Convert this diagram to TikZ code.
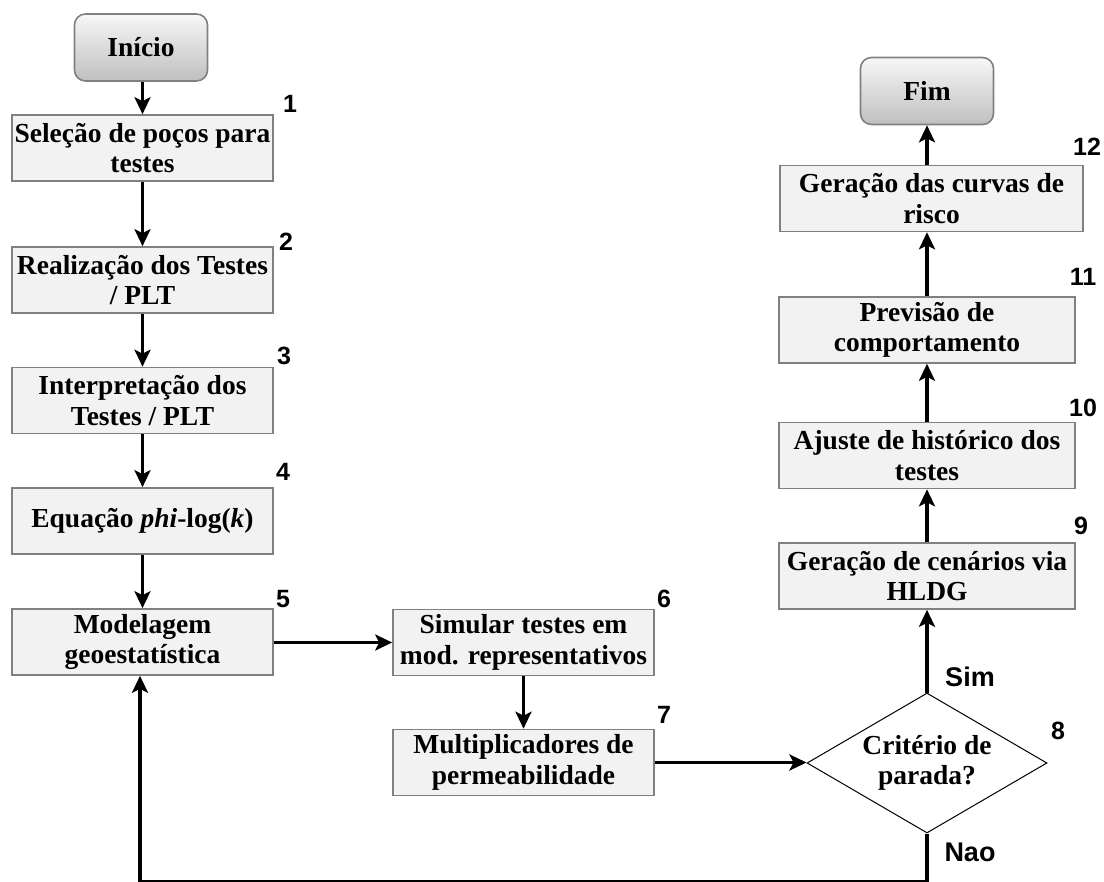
\documentclass[tikz,border=0pt]{standalone}
\usepackage{fontspec}
\setmainfont{Liberation Serif}
\newfontfamily\numfont{Liberation Sans}
\usetikzlibrary{arrows.meta,shapes.geometric}
\definecolor{boxfill}{HTML}{F2F2F2}
\definecolor{boxline}{HTML}{808080}
\tikzset{
  boxfont/.style={font=\bfseries\fontsize{27.5}{30.5}\selectfont},
  stepbox/.style={draw=boxline, fill=boxfill, line width=1.6pt, inner sep=0pt,
    minimum width=261pt, minimum height=66pt, align=center, boxfont},
  rbox/.style={stepbox, minimum width=296pt},
  termbox/.style={draw=boxline, line width=1.6pt, rounded corners=11pt,
    top color=gray!6, bottom color=gray!50, inner sep=0pt,
    minimum width=133pt, minimum height=67pt, boxfont},
  decision/.style={diamond, draw=black, line width=1pt, fill=white, inner sep=0pt,
    minimum width=240pt, minimum height=140pt, aspect=1.714, align=center, boxfont},
  numlbl/.style={font=\numfont\bfseries\fontsize{25}{25}\selectfont, inner sep=0pt},
  yn/.style={font=\numfont\bfseries\fontsize{27}{27}\selectfont, inner sep=0pt},
  arr/.style={line width=3.6pt, -{Stealth[length=17pt,width=16pt,inset=4pt]}},
  plain/.style={line width=3.6pt}
}
\begin{document}
\begin{tikzpicture}[x=1pt,y=-1pt]
\useasboundingbox (0,0) rectangle (1104,882);
% left column
\node[termbox] (ini) at (141,47.5) {Início};
\node[stepbox] (b1) at (142.5,148) {Seleção de poços para\\testes};
\node[stepbox] (b2) at (142.5,280) {Realização dos Testes\\/ PLT};
\node[stepbox] (b3) at (142.5,400.5) {Interpretação dos\\Testes / PLT};
\node[stepbox] (b4) at (142.5,521) {Equação \textit{phi}-log(\textit{k})};
\node[stepbox] (b5) at (142.5,642) {Modelagem\\geoestatística};
% middle column
\node[stepbox] (b6) at (523.5,642.5) {Simular testes em\\mod. representativos};
\node[stepbox] (b7) at (523.5,762.5) {Multiplicadores de\\permeabilidade};
% decision
\node[decision] (d8) at (927,763) {Critério de\\parada?};
% right column
\node[rbox] (b9) at (927,576) {Geração de cenários via\\HLDG};
\node[rbox] (b10) at (927,455.5) {Ajuste de histórico dos\\testes};
\node[rbox] (b11) at (927,330) {Previsão de\\comportamento};
\node[rbox, minimum width=303pt] (b12) at (931.5,198.5) {Geração das curvas de\\risco};
\node[termbox] (fim) at (927,91) {Fim};
% numbers
\node[numlbl] (n1) at (290,104) {1};
\node[numlbl] (n2) at (286,242) {2};
\node[numlbl] (n3) at (284,356) {3};
\node[numlbl] (n4) at (283,472) {4};
\node[numlbl] (n5) at (283,599) {5};
\node[numlbl] (n6) at (664,599) {6};
\node[numlbl] (n7) at (664,715) {7};
\node[numlbl] (n8) at (1058,731) {8};
\node[numlbl] (n9) at (1081,526) {9};
\node[numlbl] (n10) at (1083,408) {10};
\node[numlbl] (n11) at (1083,277) {11};
\node[numlbl] (n12) at (1087,147) {12};
\node[yn] (sim) at (970,677) {Sim};
\node[yn] (nao) at (970,852) {Nao};
% connectors
\draw[arr] (ini.south -| b1.north) -- (b1.north);
\draw[arr] (b1) -- (b2);
\draw[arr] (b2) -- (b3);
\draw[arr] (b3) -- (b4);
\draw[arr] (b4) -- (b5);
\draw[arr] (b5.east |- b6.west) -- (b6.west);
\draw[arr] (b6) -- (b7);
\draw[arr] (b7.east) -- (b7.east -| d8.west);
\draw[arr] (d8.north) -- (b9.south);
\draw[arr] (b9) -- (b10);
\draw[arr] (b10) -- (b11);
\draw[arr] (b11) -- (b11 |- b12.south);
\draw[arr] (b11 |- b12.north) -- (fim.south);
\coordinate (lp) at (927,882);
\coordinate (lq) at (140,882);
\draw[plain] (d8.south) -- (lp) -- (lq);
\draw[arr] (lq) -- (lq |- b5.south);
\end{tikzpicture}
\end{document}
